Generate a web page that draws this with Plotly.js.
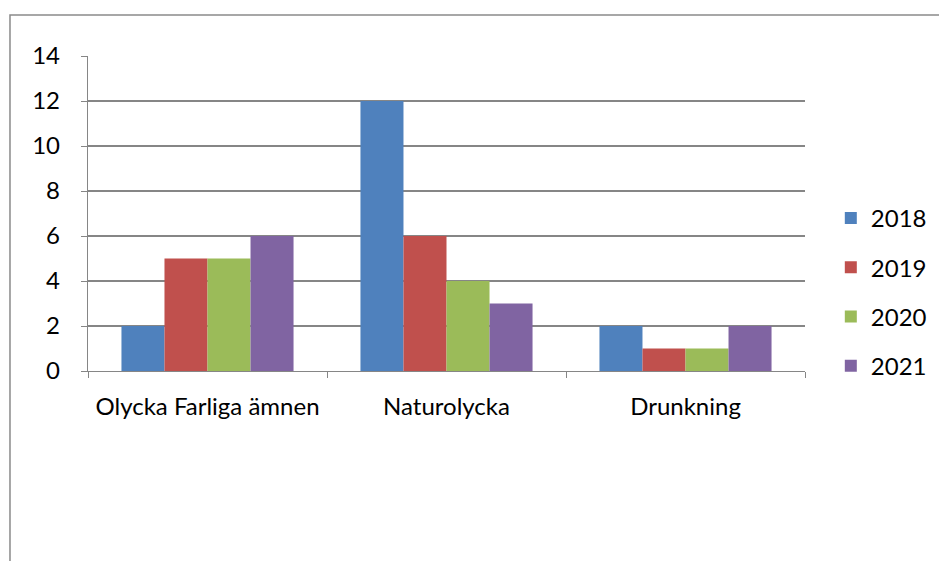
<!DOCTYPE html>
<html><head><meta charset="utf-8">
<script src="https://cdn.plot.ly/plotly-3.0.1.min.js"></script>
<style>html,body{margin:0;padding:0;background:#fff}#c{width:939px;height:561px}</style>
</head><body><div id="c"></div>
<script>
const categories = ["Olycka Farliga ämnen", "Naturolycka", "Drunkning"];
const seriesNames = ["2018", "2019", "2020", "2021"];
const v2018 = [2, 12, 2];
const v2019 = [5, 6, 1];
const v2020 = [5, 4, 1];
const v2021 = [6, 3, 2];
const colors = ["#4F81BD", "#C0504D", "#9BBB59", "#8064A2"];
const yTicks = [0, 2, 4, 6, 8, 10, 12, 14];

const vals = [v2018, v2019, v2020, v2021];
const traces = seriesNames.map((n, i) => ({
  type: "bar", name: n, x: categories, y: vals[i],
  marker: {color: colors[i], line: {width: 0}},
  legendgroup: n, hoverinfo: "skip"
}));

const layout = {
  width: 939, height: 561,
  margin: {l: 88, r: 134, t: 56, b: 190, autoexpand: false},
  paper_bgcolor: "#fff", plot_bgcolor: "#fff",
  font: {family: "Lato, sans-serif", size: 24, color: "#000"},
  barmode: "group", bargap: 0.28, bargroupgap: 0,
  showlegend: true,
  legend: {x: 1.036, y: 0.251, xanchor: "left", yanchor: "middle",
           font: {size: 24, color: "#000"}, tracegroupgap: 15, traceorder: "grouped",
           itemwidth: 30},
  xaxis: {type: "category", showgrid: false, showline: true, linecolor: "#868686", linewidth: 1.2,
          ticks: "outside", tickson: "boundaries", ticklen: 6, tickcolor: "#868686",
          tickfont: {size: 24}, ticklabelstandoff: 14, fixedrange: true},
  yaxis: {range: [0, 14], tickvals: yTicks, showgrid: true, gridcolor: "#868686", gridwidth: 1.2,
          showline: true, linecolor: "#868686", linewidth: 1.2, zeroline: false,
          ticks: "outside", ticklen: 6, tickcolor: "#868686", tickfont: {size: 24},
          ticklabelstandoff: 16, fixedrange: true},
  shapes: [{type: "rect", xref: "paper", yref: "paper",
            x0: -0.1088, x1: 2, y0: -2, y1: 1.130,
            line: {color: "#8a8a8a", width: 1.5}, fillcolor: "rgba(0,0,0,0)"}]
};
Plotly.newPlot("c", traces, layout, {staticPlot: true});
</script></body></html>
